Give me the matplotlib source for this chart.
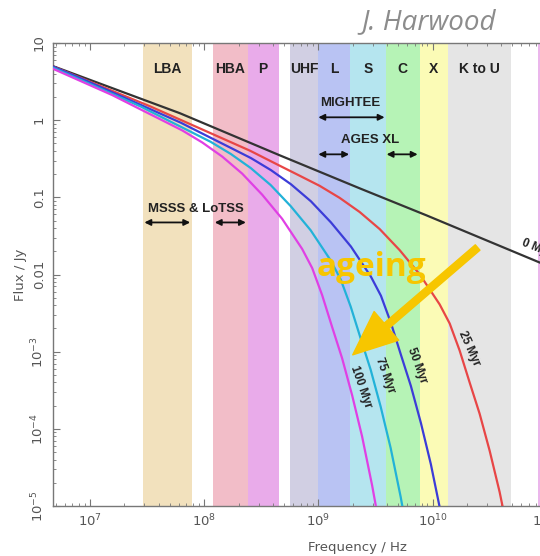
import numpy as np
import matplotlib
matplotlib.use("Agg")
import matplotlib.pyplot as plt
from matplotlib.ticker import LogLocator, NullFormatter

# observing bands (Hz)
band_names = ["LBA", "HBA", "P", "UHF", "L", "S", "C", "X", "K to U", ""]
band_lo = [2.9e7, 1.19e8, 2.41e8, 5.6e8, 1.0e9, 1.9e9, 3.9e9, 7.7e9, 1.36e10, 8.3e10]
band_hi = [7.8e7, 2.41e8, 4.5e8, 1.0e9, 1.9e9, 3.9e9, 7.7e9, 1.36e10, 4.9e10, 1.3e11]
band_colors = ["#f2e1bd", "#f2bdc8", "#e9abea", "#d1cfe3", "#b9c3f3",
               "#b5e5ef", "#b6f3b6", "#fbfbb6", "#e5e5e5", "#ebb6eb"]

# aged spectra, log10(frequency / Hz) and log10(flux / Jy)
ages = ["0 Myr", "25 Myr", "50 Myr", "75 Myr", "100 Myr"]
logf_0 = [6.676, 7.787, 8.662, 9.362, 9.948, 10.937, 11.2]
logs_0 = [0.701, 0.091, -0.455, -0.883, -1.234, -1.844, -2.0]

logf_25 = [6.676, 7.525, 7.962, 8.400, 8.662, 8.837, 9.012, 9.187, 9.362, 9.537,
           9.712, 9.887, 10.062, 10.150, 10.237, 10.325, 10.412, 10.500, 10.587,
           10.675, 10.718]
logs_25 = [0.696, 0.181, -0.106, -0.394, -0.590, -0.720, -0.851, -1.007, -1.190, -1.411,
           -1.684, -1.997, -2.387, -2.635, -2.985, -3.401, -3.804, -4.285, -4.818,
           -5.454, -5.805]

logf_50 = [6.676, 6.923, 7.360, 7.798, 8.060, 8.235, 8.410, 8.585, 8.760, 8.935,
           9.110, 9.285, 9.460, 9.548, 9.635, 9.723, 9.810, 9.898, 9.985, 10.073]
logs_50 = [0.695, 0.541, 0.254, -0.034, -0.230, -0.360, -0.491, -0.647, -0.830, -1.051,
           -1.324, -1.637, -2.027, -2.275, -2.625, -3.041, -3.444, -3.925, -4.458, -5.094]

logf_75 = [6.676, 7.008, 7.446, 7.708, 7.883, 8.058, 8.233, 8.408, 8.583, 8.758,
           8.933, 9.108, 9.196, 9.283, 9.371, 9.458, 9.546, 9.633, 9.721, 9.764]
logs_75 = [0.681, 0.464, 0.176, -0.020, -0.150, -0.281, -0.437, -0.620, -0.841, -1.114,
           -1.427, -1.817, -2.065, -2.415, -2.831, -3.234, -3.715, -4.248, -4.884, -5.235]

logf_100 = [6.676, 6.758, 7.196, 7.458, 7.633, 7.808, 7.983, 8.158, 8.333, 8.508,
            8.683, 8.858, 8.946, 9.033, 9.121, 9.208, 9.296, 9.383, 9.471, 9.514]
logs_100 = [0.667, 0.613, 0.325, 0.129, -0.001, -0.132, -0.288, -0.471, -0.692, -0.965,
            -1.278, -1.668, -1.916, -2.266, -2.682, -3.085, -3.566, -4.099, -4.735, -5.086]

curves = [(logf_0, logs_0), (logf_25, logs_25), (logf_50, logs_50),
          (logf_75, logs_75), (logf_100, logs_100)]
curve_colors = ["#333333", "#e84646", "#3c3cd8", "#22b2d8", "#e040e4"]

# curve labels: position (Hz, Jy) and angle
label_pos = [(6.1e10, 0.026), (2.07e10, 1.09e-3), (7.26e9, 6.6e-4),
             (3.81e9, 4.9e-4), (2.35e9, 3.5e-4)]
label_rot = [-22, -66, -70, -70, -71]

fig = plt.figure(figsize=(5.40, 5.56), dpi=100)
ax = fig.add_axes([0.0981, 0.0899, 1.126, 0.8327])
ax.set_xscale("log")
ax.set_yscale("log")
ax.set_xlim(4.75e6, 1e12)
ax.set_ylim(1e-5, 10)

for lo, hi, c in zip(band_lo, band_hi, band_colors):
    ax.axvspan(lo, hi, color=c, lw=0, zorder=0)

bold = dict(family="Liberation Sans", weight="bold", color="#222222")
for name, lo, hi in zip(band_names, band_lo, band_hi):
    if name:
        ax.text(np.sqrt(lo * hi), 4.6, name, ha="center", va="center", fontsize=10, **bold)

for (lf, ls), c in zip(curves, curve_colors):
    ax.plot(10 ** np.array(lf), 10 ** np.array(ls), color=c, lw=1.6, zorder=3)

for name, (fx, fy), rot in zip(ages, label_pos, label_rot):
    ha = "left" if name == "0 Myr" else "center"
    ax.text(fx, fy, name, rotation=rot, ha=ha, va="center", fontsize=8.5,
            rotation_mode="anchor", zorder=4, **bold)

# survey coverage
def span_arrow(x0, x1, y):
    ax.annotate("", xy=(x0, y), xytext=(x1, y),
                arrowprops=dict(arrowstyle="<|-|>", color="#111111", lw=1.3,
                                mutation_scale=9, shrinkA=0, shrinkB=0), zorder=4)

ax.text(1.92e9, 1.66, "MIGHTEE", ha="center", va="center", fontsize=9.5, **bold)
span_arrow(1.0e9, 3.8e9, 1.09)
ax.text(2.82e9, 0.55, "AGES XL", ha="center", va="center", fontsize=9.5, **bold)
span_arrow(1.0e9, 1.86e9, 0.361)
span_arrow(3.96e9, 7.4e9, 0.361)
ax.text(8.45e7, 0.071, "MSSS & LoTSS", ha="center", va="center", fontsize=9.5, **bold)
span_arrow(3.0e7, 7.55e7, 0.0473)
span_arrow(1.24e8, 2.32e8, 0.0473)

# ageing arrow
ax.annotate("", xy=(2.0e9, 9.1e-4), xytext=(2.48e10, 0.0224),
            arrowprops=dict(arrowstyle="simple,head_length=1.0,head_width=0.85,tail_width=0.16",
                            color="#f7c600", mutation_scale=32, shrinkA=0, shrinkB=0),
            zorder=5)
ax.text(2.93e9, 0.0123, "ageing", ha="center", va="center", fontsize=24,
        family="Open Sans", weight="bold", color="#f7c600", zorder=5)

# axes styling
for s in ax.spines.values():
    s.set_color("#777777")
    s.set_linewidth(1.0)
ax.xaxis.set_major_locator(LogLocator(base=10, numticks=20))
ax.xaxis.set_minor_locator(LogLocator(base=10, subs=np.arange(2, 10), numticks=20))
ax.yaxis.set_major_locator(LogLocator(base=10, numticks=20))
ax.yaxis.set_minor_locator(LogLocator(base=10, subs=np.arange(2, 10), numticks=20))
ax.xaxis.set_minor_formatter(NullFormatter())
ax.yaxis.set_minor_formatter(NullFormatter())
ax.tick_params(which="both", direction="in", top=True, right=True, color="#777777",
               labelcolor="#555555", labelsize=9.5)
ax.tick_params(which="major", length=5)
ax.tick_params(which="minor", length=2.5)
ax.tick_params(axis="x", pad=5)
ax.tick_params(axis="y", pad=5)

ytick_vals = [1e-5, 1e-4, 1e-3, 1e-2, 1e-1, 1, 10]
ytick_text = ["$10^{-5}$", "$10^{-4}$", "$10^{-3}$", "0.01", "0.1", "1", "10"]
ax.set_yticks(ytick_vals)
ax.set_yticklabels(ytick_text, rotation=90, va="center")
xtick_vals = [1e7, 1e8, 1e9, 1e10, 1e11]
ax.set_xticks(xtick_vals)
ax.set_xticklabels(["$10^{7}$", "$10^{8}$", "$10^{9}$", "$10^{10}$", "$10^{11}$"])

ax.set_xlabel("Frequency / Hz", fontsize=9.5, color="#555555", labelpad=8)
ax.set_ylabel("Flux / Jy", fontsize=9.5, color="#555555", labelpad=2)

fig.text(0.919, 0.960, "J. Harwood", ha="right", va="center", fontsize=20,
         family="Open Sans", style="italic", color="#8c8c8c")

fig.savefig("out.png", dpi=100)
